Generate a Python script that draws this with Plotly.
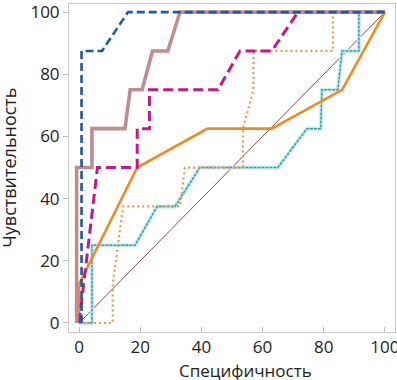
import plotly.graph_objects as go

# Reference diagonal
diag_x = [0, 100]
diag_y = [0, 100]

# Teal curve
teal_x = [0, 4.2, 4.2, 18.3, 25.5, 31.4, 39.5, 65, 74.5, 79, 79.4, 84.6, 86, 91.5, 91.5, 100]
teal_y = [0, 0, 25, 25, 37.5, 37.5, 50, 50, 62.5, 62.5, 75, 75, 87.5, 87.5, 100, 100]

# Orange dotted curve
odot_x = [0, 11, 11, 14.4, 33, 34.6, 53.6, 53.6, 57, 57, 83, 83, 100]
odot_y = [0, 0, 12.5, 37.5, 37.5, 50, 50, 62.5, 75, 87.5, 87.5, 100, 100]

# Orange solid curve
osol_x = [0, 0, 19, 42, 63, 86, 100]
osol_y = [0, 12.5, 50, 62.5, 62.5, 75, 100]

# Magenta dashed curve
mag_x = [0, 1.5, 4.5, 6, 19, 19, 23, 23, 45.4, 52.6, 63, 71.6, 100]
mag_y = [0, 12.5, 37.5, 50, 50, 62.5, 62.5, 75, 75, 87.5, 87.5, 100, 100]

# Rose curve
rose_x = [-0.8, -0.8, 4.2, 4.2, 15, 16.7, 20.6, 24, 29, 33, 100]
rose_y = [0, 50, 50, 62.5, 62.5, 75, 75, 87.5, 87.5, 100, 100]

# Dark blue dashed curve
blue_x = [0.8, 0.8, 0.8, 7.5, 16, 100]
blue_y = [0, 12.5, 87.5, 87.5, 100, 100]

x_ticks = [0, 20, 40, 60, 80, 100]
y_ticks = [0, 20, 40, 60, 80, 100]
x_title = "Специфичность"
y_title = "Чувствительность"

fig = go.Figure()
fig.add_trace(go.Scatter(x=diag_x, y=diag_y, mode="lines",
                         line=dict(color="#8c4a4a", width=1)))
fig.add_trace(go.Scatter(x=teal_x, y=teal_y, mode="lines",
                         line=dict(color="#c4eef2", width=4)))
fig.add_trace(go.Scatter(x=teal_x, y=teal_y, mode="lines",
                         line=dict(color="#3a9aa8", width=1.5, dash="3px,1px")))
fig.add_trace(go.Scatter(x=odot_x, y=odot_y, mode="lines",
                         line=dict(color="#f0984a", width=2.2, dash="2px,3px")))
fig.add_trace(go.Scatter(x=osol_x, y=osol_y, mode="lines",
                         line=dict(color="#f28a22", width=2.6)))
fig.add_trace(go.Scatter(x=mag_x, y=mag_y, mode="lines",
                         line=dict(color="#c4188a", width=3, dash="10px,5px")))
fig.add_trace(go.Scatter(x=rose_x, y=rose_y, mode="lines",
                         line=dict(color="#c08c8e", width=3.6)))
fig.add_trace(go.Scatter(x=blue_x, y=blue_y, mode="lines",
                         line=dict(color="#1d5a9e", width=2.6, dash="8px,4px")))

font_family = "Open Sans, Noto Sans, sans-serif"
fig.update_layout(
    width=397, height=380,
    margin=dict(l=69, r=2, t=4, b=48, autoexpand=False),
    paper_bgcolor="white", plot_bgcolor="white",
    showlegend=False,
    font=dict(family=font_family, size=17, color="#222222"),
    xaxis=dict(range=[-3.3, 103.3], tickvals=x_ticks, ticks="inside", ticklen=5,
               tickcolor="#bbbbbb", showgrid=False, zeroline=False,
               showline=True, linecolor="#c8c8c8", linewidth=1, mirror=True,
               automargin=False, ticklabeloverflow="allow",
               tickfont=dict(size=17)),
    yaxis=dict(range=[-2.9, 102.6], tickvals=y_ticks, ticks="outside", ticklen=5,
               tickcolor="#bbbbbb", showgrid=False, zeroline=False,
               showline=True, linecolor="#c8c8c8", linewidth=1, mirror=True,
               automargin=False, ticklabeloverflow="allow",
               tickfont=dict(size=17)),
    annotations=[
        dict(text=x_title, xref="paper", yref="paper", x=0.54, y=-0.117,
             xanchor="center", yanchor="middle", showarrow=False,
             font=dict(size=17)),
        dict(text=y_title, xref="paper", yref="paper", x=-0.185, y=0.5,
             xanchor="center", yanchor="middle", showarrow=False, textangle=-90,
             font=dict(size=18)),
    ],
)
fig.write_html("out.html", config={"displayModeBar": False},
               post_script="document.body.style.margin='0';")
